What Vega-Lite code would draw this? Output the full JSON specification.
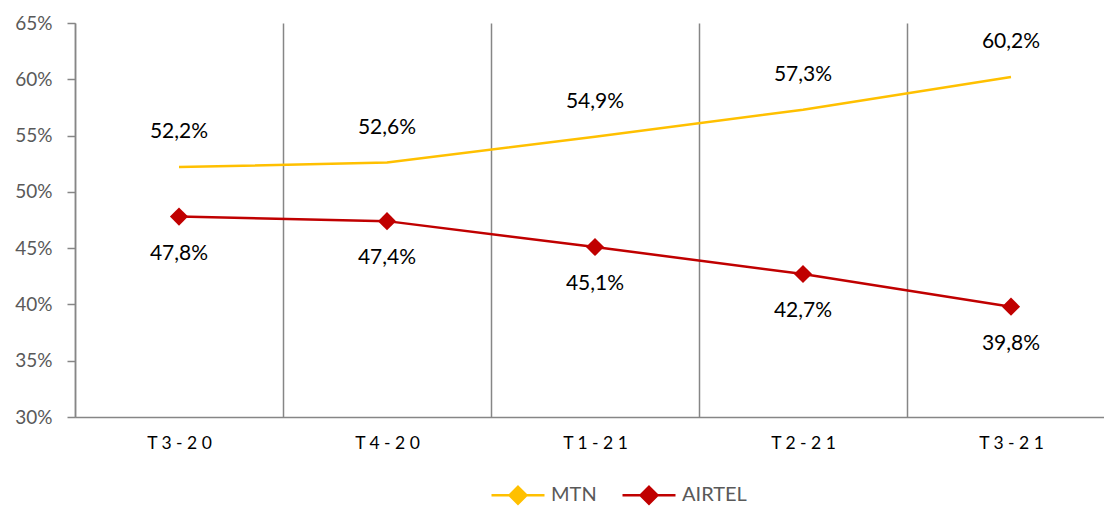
{
  "$schema": "https://vega.github.io/schema/vega-lite/v6.json",
  "width": 1040,
  "height": 394,
  "autosize": {"type": "none"},
  "padding": {"left": 75, "top": 23, "right": 0, "bottom": 106},
  "config": {
    "locale": {"number": {"decimal": ",", "thousands": " ", "grouping": [3], "currency": ["", " €"]}},
    "view": {"stroke": null},
    "font": "Lato"
  },
  "data": {
    "values": [
      {"periode": "T3-20", "operateur": "MTN", "part": 0.522},
      {"periode": "T4-20", "operateur": "MTN", "part": 0.526},
      {"periode": "T1-21", "operateur": "MTN", "part": 0.549},
      {"periode": "T2-21", "operateur": "MTN", "part": 0.573},
      {"periode": "T3-21", "operateur": "MTN", "part": 0.602},
      {"periode": "T3-20", "operateur": "AIRTEL", "part": 0.478},
      {"periode": "T4-20", "operateur": "AIRTEL", "part": 0.474},
      {"periode": "T1-21", "operateur": "AIRTEL", "part": 0.451},
      {"periode": "T2-21", "operateur": "AIRTEL", "part": 0.427},
      {"periode": "T3-21", "operateur": "AIRTEL", "part": 0.398}
    ]
  },
  "encoding": {
    "x": {
      "field": "periode",
      "type": "nominal",
      "sort": null,
      "bandPosition": 0.5,
      "scale": {"type": "band", "paddingInner": 0, "paddingOuter": 0},
      "axis": {
        "title": null,
        "tickBand": "extent",
        "grid": true,
        "gridColor": "#868686",
        "gridWidth": 1.5,
        "ticks": false,
        "domainColor": "#868686",
        "domainWidth": 1.5,
        "labelAngle": 0,
        "labelFont": "Lato",
        "labelFontSize": 17.5,
        "labelColor": "#000000",
        "labelPadding": 17,
        "labelExpr": "join(split(datum.label, ''), ' ')"
      }
    },
    "y": {
      "field": "part",
      "type": "quantitative",
      "scale": {"domain": [0.3, 0.65], "nice": false, "zero": false},
      "axis": {
        "title": null,
        "values": [0.3, 0.35, 0.4, 0.45, 0.5, 0.55, 0.6, 0.65],
        "format": ".0%",
        "grid": false,
        "domainColor": "#868686",
        "domainWidth": 1.5,
        "tickColor": "#868686",
        "tickWidth": 1.5,
        "tickSize": 8,
        "labelPadding": 15,
        "labelFontSize": 19,
        "labelColor": "#595959"
      }
    },
    "color": {
      "field": "operateur",
      "type": "nominal",
      "scale": {"domain": ["MTN", "AIRTEL"], "range": ["#FFC000", "#C00000"]},
      "legend": {
        "title": null,
        "orient": "none",
        "direction": "horizontal",
        "legendX": 415,
        "legendY": 444,
        "padding": 0,
        "symbolType": "M-1,0H1M0,-0.32L0.32,0L0,0.32L-0.32,0Z",
        "symbolSize": 2809,
        "symbolStrokeWidth": 2.5,
        "labelFontSize": 20,
        "labelColor": "#595959",
        "labelOffset": 5,
        "columnPadding": 20,
        "encode": {"symbols": {"update": {"fill": {"scale": "color", "field": "value"}, "fillOpacity": {"value": 1}, "opacity": {"value": 1}}}}
      }
    }
  },
  "layer": [
    {"mark": {"type": "line", "strokeWidth": 2.5}},
    {
      "transform": [{"filter": "datum.operateur === 'AIRTEL'"}],
      "mark": {"type": "point", "shape": "diamond", "filled": true, "size": 330, "opacity": 1}
    },
    {
      "transform": [{"filter": "datum.operateur === 'MTN'"}],
      "mark": {"type": "text", "fontSize": 21, "color": "#000000", "dy": -35, "baseline": "middle"},
      "encoding": {"text": {"field": "part", "type": "quantitative", "format": ".1%"}, "color": {"value": "#000000"}}
    },
    {
      "transform": [{"filter": "datum.operateur === 'AIRTEL'"}],
      "mark": {"type": "text", "fontSize": 21, "color": "#000000", "dy": 37, "baseline": "middle"},
      "encoding": {"text": {"field": "part", "type": "quantitative", "format": ".1%"}, "color": {"value": "#000000"}}
    }
  ]
}
